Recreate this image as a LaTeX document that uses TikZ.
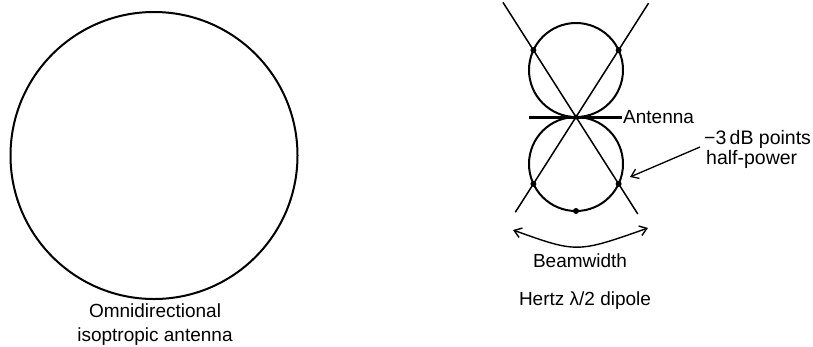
\documentclass[tikz,border=0pt]{standalone}
\usepackage{fontspec}
\setmainfont{Liberation Sans}
\usetikzlibrary{arrows.meta,calc}
\begin{document}
\begin{tikzpicture}[x=1pt,y=-1pt,
  lbl/.style={inner sep=1pt,font=\fontsize{19}{24}\selectfont},
  pattern/.style={line width=2pt},
  ray/.style={line width=1.5pt},
  dotmark/.style={circle,fill=black,inner sep=0pt,minimum size=6pt},
  barb/.style={line width=1.3pt,-{Straight Barb[length=7pt,width=10pt]}}]
\useasboundingbox (0,0) rectangle (813,346);
% Omnidirectional antenna
\node[circle,draw,pattern,minimum size=287pt,inner sep=0pt] (omni) at (154,155.5) {};
\node[lbl,align=center] (omnilbl) at (155,325) {Omnidirectional\\isoptropic antenna};
% Dipole pattern
\coordinate (O) at (576,117);
\draw[pattern] (576,70) circle[radius=47];
\draw[pattern] (576,164) circle[radius=47];
\coordinate (a1) at ($(O)+(-122.5:136)$);
\coordinate (a2) at ($(O)+(57.5:115)$);
\coordinate (b1) at ($(O)+(-57.5:135)$);
\coordinate (b2) at ($(O)+(-237.5:113)$);
\draw[ray] (a1) -- (a2);
\draw[ray] (b1) -- (b2);
\coordinate (ant1) at (529,117);
\coordinate (ant2) at (622,117);
\draw[line width=3pt] (ant1) -- (ant2);
\node[lbl,anchor=west] (antlbl) at (ant2) {Antenna};
\node[dotmark] (d1) at ($(O)+(-122.5:79.3)$) {};
\node[dotmark] (d2) at ($(O)+(-57.5:79.3)$) {};
\node[dotmark] (d3) at ($(O)+(122.5:79.3)$) {};
\node[dotmark] (d4) at ($(O)+(57.5:79.3)$) {};
\node[dotmark] (d5) at (576,211) {};
\node[dotmark,minimum size=5pt] (dO) at (O) {};
% -3 dB label
\node[lbl,anchor=west,align=left,font=\fontsize{19.5}{20}\selectfont] (db) at (703,149) {−3\,dB points\\\hspace{2pt}half-power};
\coordinate (tip) at (630,177);
\draw[barb] (700,147) -- (tip);
% Beamwidth
\coordinate (bwL) at (513,230);
\coordinate (bwR) at (648,228);
\draw[line width=1.4pt,{Straight Barb[length=7pt,width=10pt]}-{Straight Barb[length=7pt,width=10pt]}] (bwL) .. controls (577,253) .. (bwR);
\node[lbl] (bwlbl) at (580,261) {Beamwidth};
\node[lbl] (hertz) at (585,301) {Hertz λ/2 dipole};
\end{tikzpicture}
\end{document}
